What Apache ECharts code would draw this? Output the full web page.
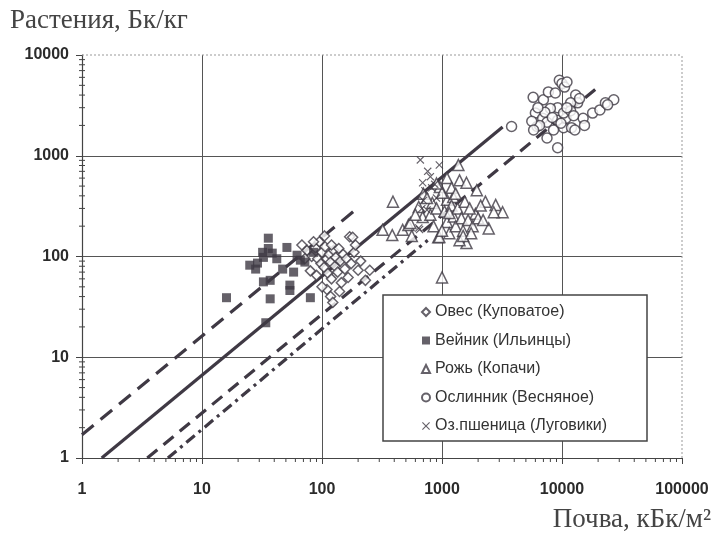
<!DOCTYPE html>
<html><head><meta charset="utf-8">
<script src="https://cdn.jsdelivr.net/npm/echarts@6/dist/echarts.min.js"></script>
<style>html,body{margin:0;padding:0;background:#fff}#c{width:715px;height:539px}</style>
</head><body><div id="c"></div>
<script>
const seriesNames = ['Овес (Куповатое)', 'Вейник (Ильинцы)', 'Рожь (Копачи)', 'Ослинник (Весняное)', 'Оз.пшеница (Луговики)'];
const xTickLabels = ['1', '10', '100', '1000', '10000', '100000'];
const yTickLabels = ['1', '10', '100', '1000', '10000'];
const yAxisTitle = 'Растения, Бк/кг';
const xAxisTitle = 'Почва, кБк/м²';

// Овес (Куповатое) – open diamonds
const ovesData = [[68,130],[75,115],[82,100],[88,122],[92,95],[95,140],[98,85],[100,110],[104,78],[106,125],[110,95],[112,68],[115,105],[118,88],[120,60],[125,115],[128,80],[130,98],[135,70],[138,120],[142,90],[145,55],[150,105],[155,75],[160,95],[165,62],[170,157],[175,85],[185,110],[200,73],[210,90],[250,73],[230,58],[110,47],[118,40],[123,35],[100,50],[90,65],[80,72],[72,95],[85,140],[140,45],[190,130],[120,130],[105,160],[180,155]];
// Вейник (Ильинцы) – filled squares
const vejnikData = [[35.7,152],[35.7,120],[32,110],[38.5,108],[51,123],[62,103],[25,82],[29,86],[32.5,98],[66,92],[32.5,56],[37,58],[54,52],[54,46],[16,39],[37,38],[80,39],[34,22],[47,75],[72,88],[85,110],[28,75],[42,95],[58,70]];
// Рожь (Копачи) – open triangles
const rozhData = [[320,184],[385,163],[390,350],[470,184],[525,206],[545,215],[640,310],[690,246],[830,340],[930,155],[950,156],[960,490],[1000,62],[1100,365],[1240,390],[1370,810],[1400,570],[1600,540],[1950,455],[2300,350],[2800,325],[3200,275],[2700,275],[2450,190],[1900,265],[1600,136],[1400,145],[700,420],[750,380],[800,260],[850,200],[900,300],[1000,430],[1050,280],[1100,220],[1150,170],[1200,320],[1250,250],[1300,200],[1350,300],[1450,240],[1500,180],[1550,350],[1650,230],[1700,300],[1800,200],[2000,240],[2100,320],[1100,600],[1200,480],[900,530],[1300,420],[1500,160],[1750,170],[2200,230],[1000,180],[1150,270],[600,260],[560,160]];
// Ослинник (Весняное) – open circles
const oslinnikData = [[5750,3800],[7000,3600],[7700,4300],[8800,4200],[9500,5600],[10000,5200],[10500,4800],[11000,5400],[13000,4000],[13500,3350],[11800,3350],[9200,3000],[8000,2950],[6000,2650],[6900,2350],[6200,1950],[7500,2150],[9200,2250],[10300,1900],[12000,1900],[12800,1800],[15000,2350],[15400,2000],[18000,2650],[20700,2850],[23000,3350],[27000,3600],[7500,1500],[9200,1200],[3800,1950],[10800,2350],[10300,2650],[11800,2800],[6500,2000],[8500,1800],[5600,2200],[7200,2700],[9800,2100],[14000,3700],[11000,3000],[6300,3000],[8300,2400],[12500,2500],[24000,3200],[5800,1800]];
// Оз.пшеница (Луговики) – x marks
const pshenicaData = [[660,910],[950,810],[690,540],[640,192],[750,290],[650,185],[720,450],[800,620],[700,360],[760,700],[820,480],[680,300],[900,380],[870,520]];

// regression / bound lines (end points)
const lineUpper = [[1,1.7],[190,290]];
const lineSolid = [[1.46,1],[3200,1930]];
const lineDashed = [[3.5,1],[20000,4800]];
const lineDashDot = [[5.2,1],[760,145]];

const minorX = [], minorY = [];
for (let k = 0; k < 5; k++) for (let m = 2; m <= 9; m++) minorX.push(m * Math.pow(10, k));
for (let k = 0; k < 4; k++) for (let m = 2; m <= 9; m++) minorY.push(m * Math.pow(10, k));

const C = '#3f3944';
const xPath = 'path://M0,1L1,0L5,4L9,0L10,1L6,5L10,9L9,10L5,6L1,10L0,9L4,5Z';

function scatter(name, data, symbol, size, filled) {
  return {
    name, type: 'scatter', data, symbol, symbolSize: size, z: 4,
    itemStyle: filled ? { color: C, borderColor: C, borderWidth: 0 } : { color: '#fff', borderColor: C, borderWidth: 1.5 }
  };
}
function line(data, type, width) {
  return { type: 'line', data, showSymbol: false, silent: true, z: 3,
    lineStyle: { color: C, width, type }, animation: false };
}
function ticks(vals, isX) {
  return {
    type: 'custom', silent: true, z: 5, clip: false,
    data: vals.map(v => isX ? [v, 1] : [1, v]),
    renderItem: (p, api) => {
      const pt = api.coord([api.value(0), api.value(1)]);
      return isX
        ? { type: 'line', shape: { x1: pt[0], y1: pt[1], x2: pt[0], y2: pt[1] + 4 }, style: { stroke: '#444', lineWidth: 1 } }
        : { type: 'line', shape: { x1: pt[0] - 3, y1: pt[1], x2: pt[0] + 3, y2: pt[1] }, style: { stroke: '#444', lineWidth: 1 } };
    }
  };
}
// faint dotted frame on the top and right sides of the plot
const frameSeries = {
  type: 'custom', silent: true, z: 2, clip: false,
  data: [[1, 10000, 100000, 10000], [100000, 1, 100000, 10000]],
  renderItem: (p, api) => {
    const a = api.coord([api.value(0), api.value(1)]);
    const b = api.coord([api.value(2), api.value(3)]);
    return { type: 'line', shape: { x1: a[0], y1: a[1], x2: b[0], y2: b[1] },
      style: { stroke: '#999', lineWidth: 1, lineDash: [2, 2] } };
  }
};

const chart = echarts.init(document.getElementById('c'), null, { renderer: 'canvas' });
const labelStyle = { color: '#2b2b2b', fontWeight: 'bold', fontSize: 16, fontFamily: 'Liberation Sans' };
chart.setOption({
  animation: false,
  backgroundColor: '#fff',
  grid: { left: 82, right: 33, top: 55, bottom: 81, containLabel: false },
  xAxis: {
    type: 'log', logBase: 10, min: 1, max: 100000,
    axisLine: { lineStyle: { color: '#444', width: 1.2 } },
    axisTick: { show: true, length: 6, lineStyle: { color: '#444' } },
    axisLabel: Object.assign({ margin: 24, formatter: v => xTickLabels[Math.round(Math.log10(v))] }, labelStyle),
    splitLine: { show: true, showMaxLine: false, lineStyle: { color: '#555', width: 1 } }
  },
  yAxis: {
    type: 'log', logBase: 10, min: 1, max: 10000,
    axisLine: { show: true, lineStyle: { color: '#444', width: 1.2 } },
    axisTick: { show: true, length: 6, lineStyle: { color: '#444' } },
    axisLabel: Object.assign({ margin: 13, formatter: v => yTickLabels[Math.round(Math.log10(v))] }, labelStyle),
    splitLine: { show: true, showMaxLine: false, lineStyle: { color: '#555', width: 1 } }
  },
  legend: {
    data: seriesNames.map(n => ({ name: n })),
    orient: 'vertical', left: 383, top: 295,
    backgroundColor: '#fff', borderColor: '#444', borderWidth: 1.5, borderRadius: 0,
    padding: [9, 40, 7, 38], itemGap: 12.5, itemWidth: 8, itemHeight: 8,
    textStyle: { fontSize: 16, color: '#333', fontFamily: 'Liberation Sans' },
    z: 10
  },
  graphic: [
    { type: 'text', left: 10, top: 7, style: { text: yAxisTitle, font: '27px "Liberation Serif"', fill: '#444' } },
    { type: 'text', right: 4, top: 506, style: { text: xAxisTitle, font: '27px "Liberation Serif"', fill: '#444' } }
  ],
  series: [
    frameSeries,
    line(lineUpper, [15, 9], 3.2),
    line(lineSolid, 'solid', 3.2),
    line(lineDashed, [13, 8], 3.2),
    line(lineDashDot, [11, 5, 3, 5], 3.2),
    scatter(seriesNames[0], ovesData, 'diamond', 10, false),
    scatter(seriesNames[1], vejnikData, 'rect', 9, true),
    scatter(seriesNames[2], rozhData, 'triangle', 11, false),
    scatter(seriesNames[3], oslinnikData, 'circle', 10, false),
    scatter(seriesNames[4], pshenicaData, xPath, 8, true),
    ticks(minorX, true),
    ticks(minorY, false)
  ]
});
</script></body></html>
